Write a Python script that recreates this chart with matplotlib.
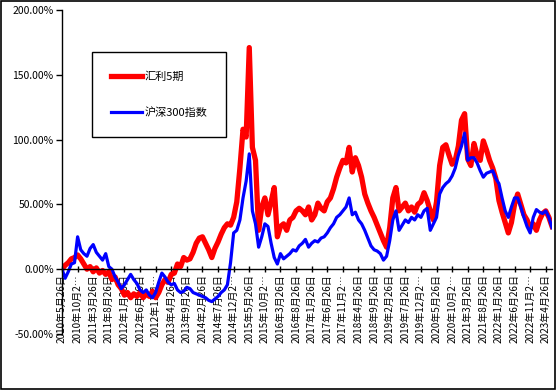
import matplotlib
matplotlib.use("Agg")
import matplotlib.pyplot as plt
from matplotlib.patches import Rectangle
import numpy as np

plt.rcParams['font.family'] = ['Noto Sans CJK SC', 'DejaVu Sans']

# Monthly observations, starting 2010-05 (index 0) to 2023-06
huili5 = [0, 3, 5, 8, 9, 11, 8, 4, 0, 2,
          -2, 1, -3, -1, -4, -2, -8, -6, -12, -15,
          -20, -18, -22, -19, -21, -18, -22, -19, -21, -17,
          -22, -18, -12, -8, -10, -4, -3, 4, 2, 9,
          7, 8, 13, 20, 24, 25, 20, 15, 9, 16,
          21, 27, 32, 35, 34, 40, 52, 78, 108, 102,
          171, 94, 84, 30, 48, 55, 42, 52, 63, 25,
          33, 35, 30, 38, 40, 45, 47, 45, 42, 48,
          38, 42, 51, 47, 45, 52, 55, 62, 71, 78,
          84, 82, 94, 75, 86, 80, 71, 58, 51, 45,
          40, 34, 28, 22, 17, 32, 55, 63, 45, 48,
          51, 45, 48, 44, 50, 52, 59, 53, 45, 38,
          52, 80, 94, 96, 88, 81, 84, 95, 115, 120,
          85, 80, 97, 88, 84, 99, 92, 84, 78, 70,
          53, 44, 36, 28, 36, 50, 58, 50, 42, 38,
          32, 35, 30, 38, 43, 45, 40, 33]
hs300 = [0, -7, -2, 4, 5, 25, 15, 12, 10, 16,
         19, 13, 10, 7, 12, 2, 0, -6, -10, -15,
         -12, -8, -4, -8, -11, -16, -18, -16, -20, -22,
         -18, -10, -3, -6, -10, -12, -11, -16, -18, -17,
         -14, -15, -18, -19, -20, -21, -22, -24, -25, -23,
         -21, -18, -16, -12, 5, 28, 30, 38, 55, 68,
         89, 45, 35, 17, 25, 35, 33, 20, 9, 4,
         12, 8, 10, 12, 15, 14, 18, 20, 23, 17,
         20, 22, 21, 24, 25, 28, 32, 35, 40, 42,
         45, 48, 55, 42, 44, 38, 35, 30, 24, 18,
         15, 14, 12, 7, 10, 22, 38, 45, 30, 34,
         38, 36, 40, 38, 42, 40, 45, 47, 30, 35,
         40, 58, 63, 66, 68, 72, 78, 88, 95, 105,
         84, 86, 86, 82, 76, 71, 74, 75, 76, 70,
         66, 55, 45, 40, 48, 55, 55, 48, 40, 33,
         28, 40, 46, 44, 43, 45, 40, 32]
tick_labels = ["2010年5月26日", "2010年10月2…", "2011年3月26日", "2011年8月26日",
               "2012年1月26日", "2012年6月26日", "2012年11月…", "2013年4月26日",
               "2013年9月26日", "2014年2月26日", "2014年7月26日", "2014年12月2…",
               "2015年5月26日", "2015年10月2…", "2016年3月26日", "2016年8月26日",
               "2017年1月26日", "2017年6月26日", "2017年11月2…", "2018年4月26日",
               "2018年9月26日", "2019年2月26日", "2019年7月26日", "2019年12月2…",
               "2020年5月26日", "2020年10月2…", "2021年3月26日", "2021年8月26日",
               "2022年1月26日", "2022年6月26日", "2022年11月2…", "2023年4月26日"]
series_names = ["汇利5期", "沪深300指数"]

x = np.arange(len(huili5))

fig = plt.figure(figsize=(5.57, 3.91), dpi=100)
ax = fig.add_axes([62/557, 57/391, 490/557, 324/391])

for s in ['top', 'right']:
    ax.spines[s].set_visible(False)
ax.spines['bottom'].set_position(('data', 0))
ax.spines['left'].set_linewidth(1)
ax.spines['bottom'].set_linewidth(1)

ax.plot(x, huili5, color='#FF0000', lw=3.8, solid_joinstyle='round', label=series_names[0])
ax.plot(x, hs300, color='#0000FF', lw=2.3, solid_joinstyle='round', label=series_names[1])

ax.set_ylim(-50, 200)
ax.set_xlim(0, len(huili5) - 1)
ax.set_yticks(np.arange(-50, 201, 50))
ax.set_yticklabels([f"{v:.2f}%" for v in np.arange(-50, 201, 50)], fontsize=7.5)
ax.set_xticks(np.arange(0, 5 * len(tick_labels), 5))
ax.set_xticklabels(tick_labels, fontsize=7.2)
ax.tick_params(axis='y', direction='out', length=4, width=1, pad=2)
ax.tick_params(axis='x', direction='inout', length=5, width=1, pad=1, labelrotation=90)

leg = ax.legend(loc='upper left', bbox_to_anchor=(0.061, 0.87), frameon=True,
                fancybox=False, edgecolor='black', fontsize=8,
                handlelength=2.8, handletextpad=0.2, labelspacing=2.3,
                borderpad=1.7, borderaxespad=0)
leg.get_frame().set_linewidth(1)
leg.get_frame().set_facecolor('white')
leg.get_frame().set_alpha(1)

fig.add_artist(Rectangle((0.001, 0.004), 0.996, 0.994, transform=fig.transFigure,
                         fill=False, edgecolor='black', lw=1.2))

fig.savefig("out.png", dpi=100)
